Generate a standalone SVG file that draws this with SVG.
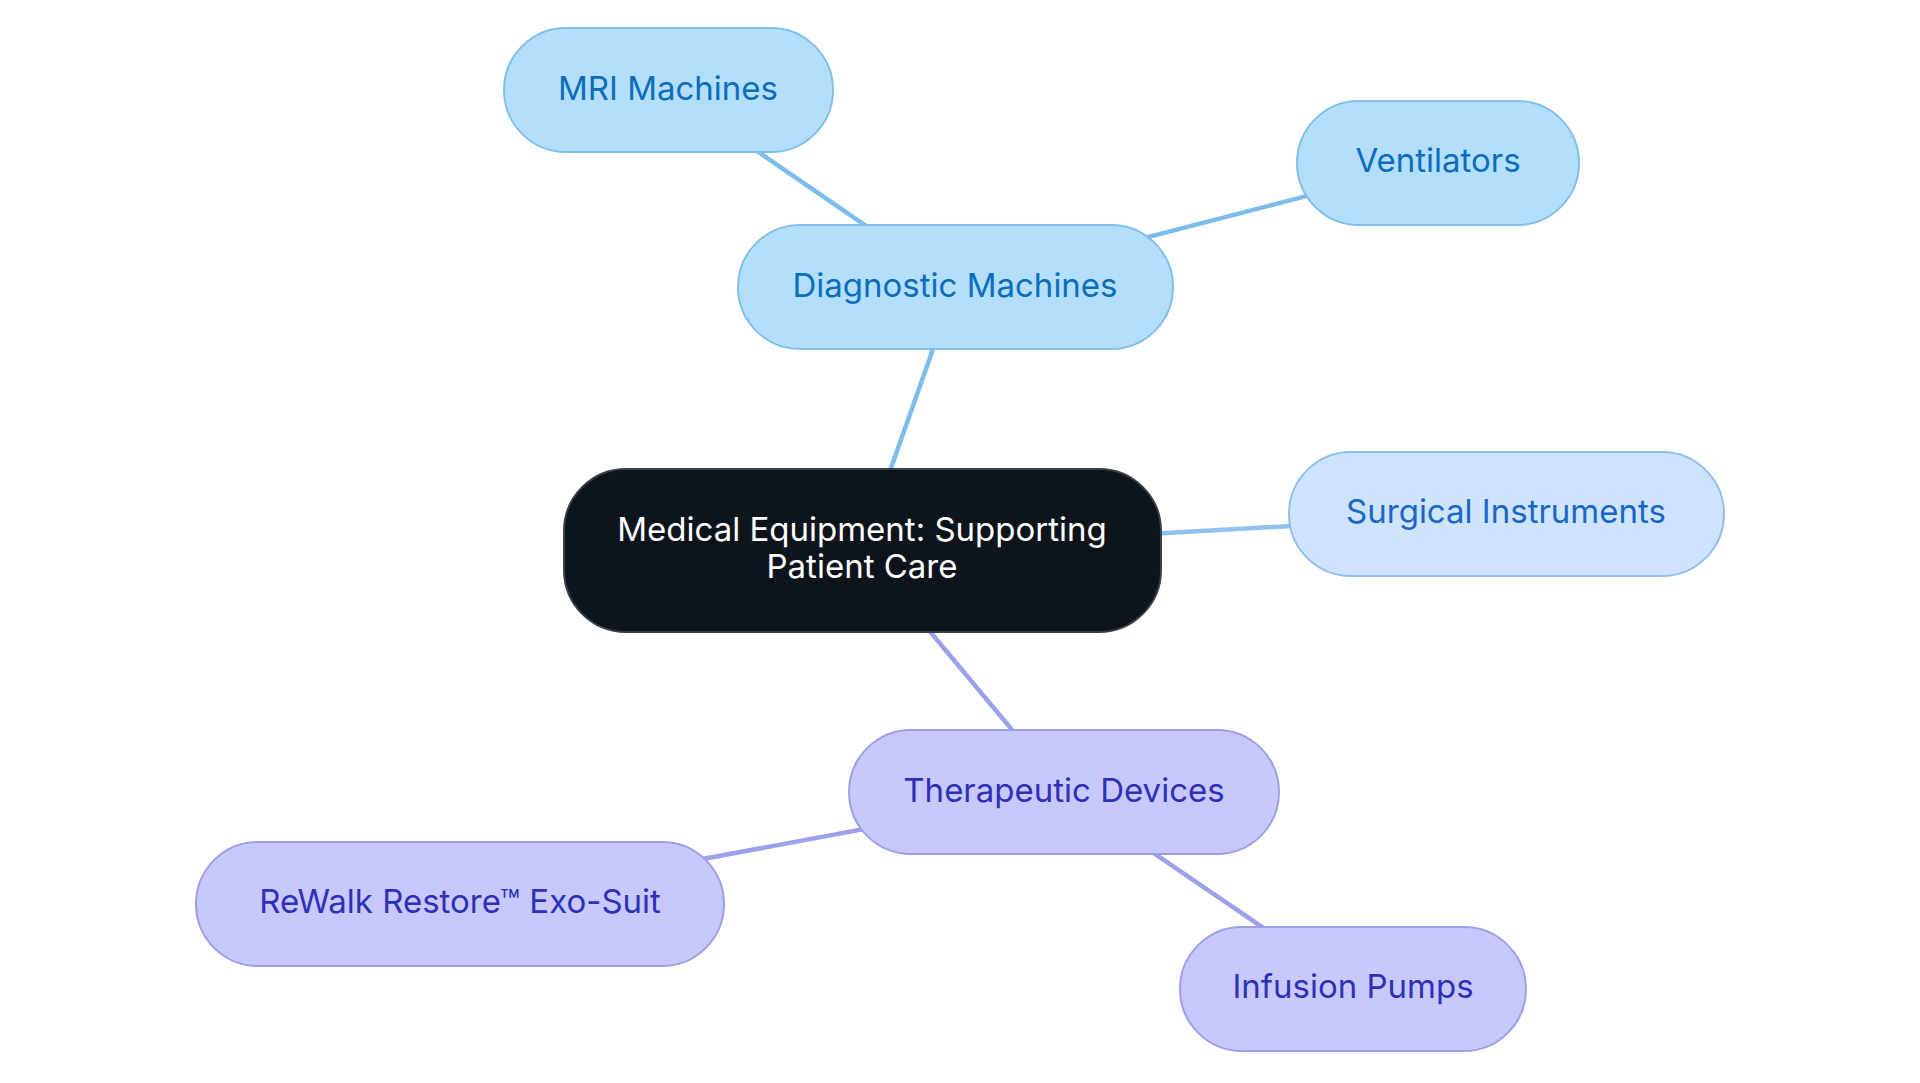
<svg xmlns="http://www.w3.org/2000/svg" width="1920" height="1083" viewBox="0 0 1920 1083">
<style>
.t{font-family:Inter,"Noto Sans","Liberation Sans",sans-serif;font-size:33px;text-anchor:middle}
.blue rect{fill:#b3dffc;stroke:#80bfea;stroke-width:2}
.blue text{fill:#0a6ebd}
.surg rect{fill:#cde4fc;stroke:#92bdef;stroke-width:2}
.surg text{fill:#1a67c6}
.purp rect{fill:#c7c9fd;stroke:#9c9fe9;stroke-width:2}
.purp text{fill:#2f30b7}
.root rect{fill:#0d141b;stroke:#3a3f45;stroke-width:2}
.root text{fill:#ffffff}
#connectors line{stroke-width:4.5;stroke-linecap:round}
</style>
<rect width="1920" height="1083" fill="#ffffff"/>
<g id="connectors">
<line x1="668" y1="90" x2="955" y2="287" stroke="#7dbdeb"/>
<line x1="955" y1="287" x2="1438" y2="162" stroke="#7dbdeb"/>
<line x1="955" y1="287" x2="862" y2="550" stroke="#7dbdeb"/>
<line x1="862" y1="550" x2="1506" y2="514" stroke="#92c0f0"/>
<line x1="862" y1="550" x2="1064" y2="792" stroke="#9da0ea"/>
<line x1="1064" y1="792" x2="460" y2="904" stroke="#9da0ea"/>
<line x1="1064" y1="792" x2="1353" y2="989" stroke="#9da0ea"/>
</g>
<g id="root" class="root">
<rect x="564" y="469" width="597" height="163" rx="62"/>
<text class="t" x="862" y="541">Medical Equipment: Supporting</text>
<text class="t" x="862" y="578">Patient Care</text>
</g>
<g id="diagnostic" class="blue">
<rect x="738" y="225" width="435" height="124" rx="62"/>
<text class="t" x="955" y="297">Diagnostic Machines</text>
</g>
<g id="mri" class="blue">
<rect x="504" y="28" width="329" height="124" rx="62"/>
<text class="t" x="668" y="100">MRI Machines</text>
</g>
<g id="ventilators" class="blue">
<rect x="1297" y="101" width="282" height="124" rx="62"/>
<text class="t" x="1438" y="172">Ventilators</text>
</g>
<g id="surgical" class="surg">
<rect x="1289" y="452" width="435" height="124" rx="62"/>
<text class="t" x="1506" y="523">Surgical Instruments</text>
</g>
<g id="therapeutic" class="purp">
<rect x="849" y="730" width="430" height="124" rx="62"/>
<text class="t" x="1064" y="802">Therapeutic Devices</text>
</g>
<g id="rewalk" class="purp">
<rect x="196" y="842" width="528" height="124" rx="62"/>
<text class="t" x="460" y="913">ReWalk Restore™ Exo-Suit</text>
</g>
<g id="infusion" class="purp">
<rect x="1180" y="927" width="346" height="124" rx="62"/>
<text class="t" x="1353" y="998">Infusion Pumps</text>
</g>
</svg>
